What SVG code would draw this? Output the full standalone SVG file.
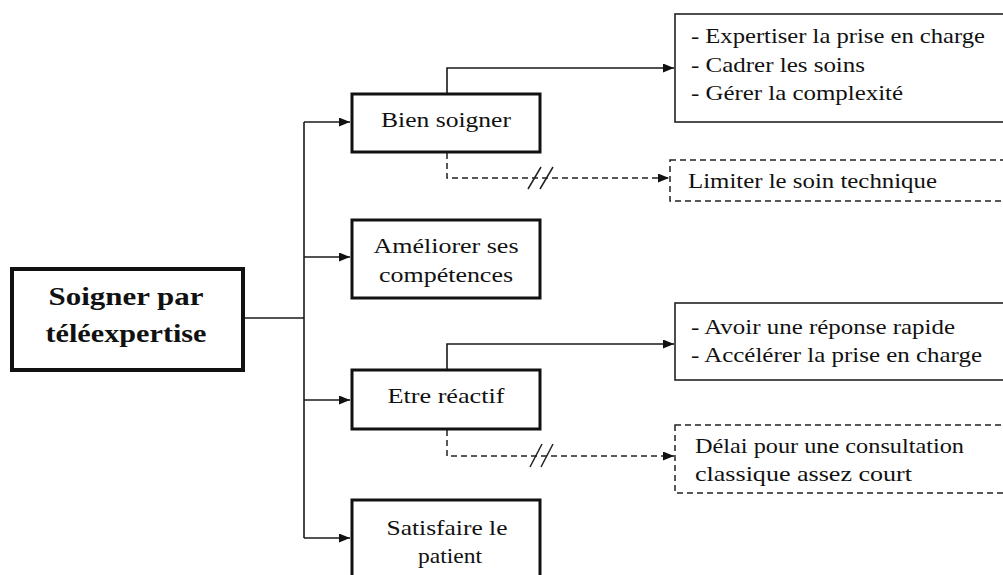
<svg xmlns="http://www.w3.org/2000/svg" width="1003" height="575" viewBox="0 0 1003 575">
<style>
  .bg { fill: #ffffff; }
  .main { fill: #ffffff; stroke: #111111; stroke-width: 4; }
  .mid { fill: #ffffff; stroke: #111111; stroke-width: 3; }
  .sol { fill: #ffffff; stroke: #222222; stroke-width: 1.6; }
  .dsh { fill: #ffffff; stroke: #222222; stroke-width: 1.5; stroke-dasharray: 6 4; }
  .ln { fill: none; stroke: #1a1a1a; stroke-width: 1.6; }
  .dln { fill: none; stroke: #222222; stroke-width: 1.5; stroke-dasharray: 6 4; }
  .sl { fill: none; stroke: #222222; stroke-width: 1.5; }
  text { font-family: "Liberation Serif", Tinos, "Times New Roman", Times, "Nimbus Roman", "Nimbus Roman No9 L", "TeX Gyre Termes", FreeSerif, "Noto Serif", "DejaVu Serif", serif; fill: #111111; }
  .t { font-size: 22px; }
  .tb { font-size: 25px; font-weight: bold; }
  .c { text-anchor: middle; }
</style>
<defs>
  <marker id="ah" markerUnits="userSpaceOnUse" markerWidth="12" markerHeight="10" refX="11" refY="4.5" orient="auto">
    <path d="M0,0 L11,4.5 L0,9 Z" fill="#111111"/>
  </marker>
</defs>
<rect class="bg" x="0" y="0" width="1003" height="575"/>

<g id="connectors">
  <path class="ln" d="M245,318 H304"/>
  <path class="ln" d="M304,122 V538"/>
  <path class="ln" d="M304,122 H350" marker-end="url(#ah)"/>
  <path class="ln" d="M304,257 H350" marker-end="url(#ah)"/>
  <path class="ln" d="M304,400 H350" marker-end="url(#ah)"/>
  <path class="ln" d="M304,538 H350" marker-end="url(#ah)"/>
  <path class="ln" d="M447,93 V68 H674" marker-end="url(#ah)"/>
  <path class="ln" d="M447,369 V344 H674" marker-end="url(#ah)"/>
  <path class="dln" d="M447,153 V178 H669" marker-end="url(#ah)"/>
  <path class="dln" d="M447,430 V456 H674" marker-end="url(#ah)"/>
  <path class="sl" d="M528,189 L541,167 M540,189 L553,167"/>
  <path class="sl" d="M530,467 L542,444 M541,467 L553,444"/>
</g>

<g id="node-main">
  <rect class="main" x="12" y="269" width="231" height="101"/>
  <text class="tb c" x="126" y="305" textLength="155" lengthAdjust="spacingAndGlyphs">Soigner par</text>
  <text class="tb c" x="126" y="342" textLength="161" lengthAdjust="spacingAndGlyphs">téléexpertise</text>
</g>

<g id="node-bien-soigner">
  <rect class="mid" x="352" y="94" width="188" height="58"/>
  <text class="t c" x="446" y="127" textLength="130" lengthAdjust="spacingAndGlyphs">Bien soigner</text>
</g>

<g id="node-ameliorer">
  <rect class="mid" x="352" y="220" width="188" height="78"/>
  <text class="t c" x="446" y="253" textLength="145" lengthAdjust="spacingAndGlyphs">Améliorer ses</text>
  <text class="t c" x="446" y="282" textLength="134" lengthAdjust="spacingAndGlyphs">compétences</text>
</g>

<g id="node-etre-reactif">
  <rect class="mid" x="352" y="370" width="188" height="59"/>
  <text class="t c" x="446" y="403" textLength="117" lengthAdjust="spacingAndGlyphs">Etre réactif</text>
</g>

<g id="node-satisfaire">
  <rect class="mid" x="352" y="500" width="188" height="90"/>
  <text class="t c" x="447" y="535" textLength="121" lengthAdjust="spacingAndGlyphs">Satisfaire le</text>
  <text class="t c" x="450" y="563" textLength="64" lengthAdjust="spacingAndGlyphs">patient</text>
</g>

<g id="node-expertiser">
  <rect class="sol" x="675" y="14" width="340" height="108"/>
  <text class="t" x="691" y="43" textLength="294" lengthAdjust="spacingAndGlyphs">- Expertiser la prise en charge</text>
  <text class="t" x="691" y="72" textLength="174" lengthAdjust="spacingAndGlyphs">- Cadrer les soins</text>
  <text class="t" x="691" y="100" textLength="212" lengthAdjust="spacingAndGlyphs">- Gérer la complexité</text>
</g>

<g id="node-limiter">
  <rect class="dsh" x="670" y="160" width="345" height="41"/>
  <text class="t" x="688" y="188" textLength="249" lengthAdjust="spacingAndGlyphs">Limiter le soin technique</text>
</g>

<g id="node-reponse">
  <rect class="sol" x="675" y="303" width="340" height="77"/>
  <text class="t" x="691" y="334" textLength="264" lengthAdjust="spacingAndGlyphs">- Avoir une réponse rapide</text>
  <text class="t" x="691" y="362" textLength="291" lengthAdjust="spacingAndGlyphs">- Accélérer la prise en charge</text>
</g>

<g id="node-delai">
  <rect class="dsh" x="675" y="425" width="340" height="68"/>
  <text class="t" x="695" y="453" textLength="269" lengthAdjust="spacingAndGlyphs">Délai pour une consultation</text>
  <text class="t" x="695" y="481" textLength="217" lengthAdjust="spacingAndGlyphs">classique assez court</text>
</g>
</svg>
